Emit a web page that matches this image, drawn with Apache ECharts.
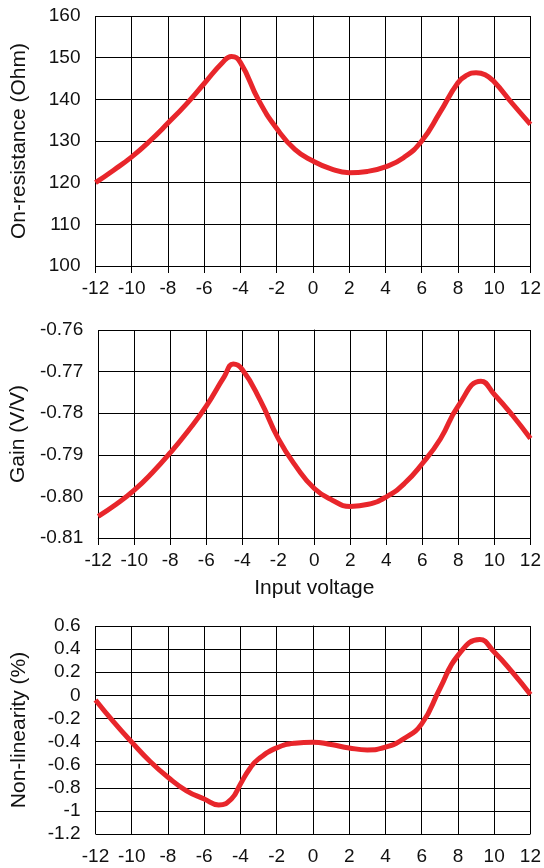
<!DOCTYPE html>
<html>
<head>
<meta charset="utf-8">
<script src="https://cdn.jsdelivr.net/npm/echarts@6/dist/echarts.min.js"></script>
<style>
html,body{margin:0;padding:0;background:#fff;}
#c{width:544px;height:868px;}
</style>
</head>
<body>
<div id="c"></div>
<script>
// Input voltage samples (V)
const voltsR = [-12,-11,-10,-9,-8,-7,-6,-5,-4.5,-4,-3,-2,-1,0,1,2,3,4,5,6,7,8,8.5,9,9.5,10,11,12];
const onResistance = [120,123,126.2,130,134.3,138.8,143.8,148.8,150.3,148.8,139.8,133,128,125.2,123.3,122.4,122.7,123.8,126,130,136.8,144,145.8,146.4,145.9,144.2,139,134];

const voltsG = [-12,-11,-10,-9,-8,-7,-6,-5,-4.5,-4,-3,-2,-1,0,1,2,3,4,5,6,7,8,9.25,10,11,12];
const gain = [-0.8048,-0.8019,-0.7985,-0.7943,-0.7895,-0.7842,-0.7783,-0.7712,-0.7682,-0.7695,-0.7769,-0.7861,-0.7929,-0.7981,-0.8009,-0.8024,-0.8019,-0.8001,-0.7969,-0.7921,-0.7862,-0.7782,-0.7723,-0.7755,-0.7805,-0.7861];

const voltsN = [-12,-11,-10,-9,-8,-7,-6,-5.2,-4.5,-4,-3.5,-3,-2,-1,0,1,2,3,4,5,6,7,8,9.2,10,11,12];
const nonLinearity = [-0.04,-0.23,-0.405,-0.57,-0.709,-0.824,-0.897,-0.948,-0.897,-0.767,-0.637,-0.55,-0.455,-0.414,-0.405,-0.426,-0.455,-0.472,-0.449,-0.377,-0.247,0.057,0.346,0.483,0.375,0.201,0.007];

const xTicks = {min:-12, max:12, interval:2};
const yR = {min:100, max:160, interval:10, name:'On-resistance (Ohm)'};
const yG = {min:-0.81, max:-0.76, interval:0.01, name:'Gain (V/V)'};
const yN = {min:-1.2, max:0.6, interval:0.2, name:'Non-linearity (%)'};
const xName = 'Input voltage';

const FONT = "'Liberation Sans', Arial, Helvetica, sans-serif";
const TXT = '#111';
const RED = '#e8262b';

function pairs(xs, ys){ return xs.map((x,i)=>[x, ys[i]]); }

const grids = [
  {left:95.5, top:16, width:435.5, height:250},
  {left:95.5, top:330, width:435.5, height:208},
  {left:95.5, top:626, width:435.5, height:208}
];

function xAxis(idx, withName){
  const a = {
    type:'value', gridIndex:idx, min:xTicks.min, max:xTicks.max, interval:xTicks.interval,
    axisLine:{show:true, lineStyle:{color:'#000', width:1}},
    axisTick:{show:true, length:7, lineStyle:{color:'#000', width:1}},
    splitLine:{show:true, lineStyle:{color:'#000', width:1}},
    axisLabel:{color:TXT, fontFamily:FONT, fontSize:19, margin:13},
  };
  if (withName){
    a.name = xName; a.nameLocation='middle'; a.nameGap=40;
    a.nameTextStyle = {color:TXT, fontFamily:FONT, fontSize:21};
  }
  return a;
}
function yAxis(idx, cfg, fmt){
  return {
    type:'value', gridIndex:idx, min:cfg.min, max:cfg.max, interval:cfg.interval,
    name:cfg.name, nameLocation:'middle', nameGap:66, nameRotate:90,
    nameTextStyle:{color:TXT, fontFamily:FONT, fontSize:21},
    axisLine:{show:true, lineStyle:{color:'#000', width:1}},
    axisTick:{show:true, length:8, lineStyle:{color:'#000', width:1}},
    splitLine:{show:true, lineStyle:{color:'#000', width:1}},
    axisLabel:{color:TXT, fontFamily:FONT, fontSize:19, margin:15, formatter:fmt}
  };
}

const chart = echarts.init(document.getElementById('c'), null, {renderer:'canvas'});
chart.setOption({
  animation:false,
  backgroundColor:'#fff',
  grid: grids,
  xAxis:[xAxis(0,false), xAxis(1,true), xAxis(2,false)],
  yAxis:[
    yAxis(0, yR, v=>String(Math.round(v))),
    yAxis(1, yG, v=>v.toFixed(2)),
    yAxis(2, yN, v=>String(parseFloat(v.toFixed(1))))
  ],
  series:[
    {type:'line', xAxisIndex:0, yAxisIndex:0, data:pairs(voltsR,onResistance), smooth:0.5, showSymbol:false, lineStyle:{color:RED, width:5}, z:5},
    {type:'line', xAxisIndex:1, yAxisIndex:1, data:pairs(voltsG,gain), smooth:0.5, showSymbol:false, lineStyle:{color:RED, width:5}, z:5},
    {type:'line', xAxisIndex:2, yAxisIndex:2, data:pairs(voltsN,nonLinearity), smooth:0.5, showSymbol:false, lineStyle:{color:RED, width:5}, z:5}
  ]
});
</script>
</body>
</html>
